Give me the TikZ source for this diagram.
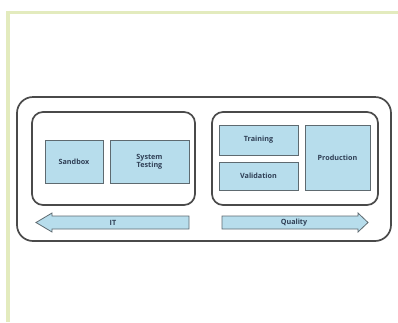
\documentclass[tikz,border=0pt]{standalone}
\usepackage{fontspec}
\setmainfont{Open Sans}
\definecolor{frameg}{HTML}{E3EBBE}
\definecolor{boxfill}{HTML}{B7DDEC}
\definecolor{boxline}{HTML}{5E6A70}
\definecolor{groupline}{HTML}{4A4A4A}
\definecolor{txt}{HTML}{2F3F55}
\tikzset{
  envbox/.style={draw=boxline, line width=0.9pt, fill=boxfill},
  grpbox/.style={draw=groupline, line width=1.7pt, rounded corners=11pt},
  outerbox/.style={draw=groupline, line width=1.7pt, rounded corners=16pt},
  lbl/.style={font=\fontsize{7.2}{8}\selectfont\bfseries, text=txt, align=center, inner sep=0pt},
  arrowshape/.style={draw=boxline, line width=0.8pt, fill=boxfill}
}
\begin{document}
\begin{tikzpicture}[x=1pt,y=-1pt]
\useasboundingbox (0,0) rectangle (398,322);
% green frame
\draw[frameg, line width=3pt] (6,12) -- (398,12);
\draw[frameg, line width=4pt] (8,10.5) -- (8,322);
% outer box
\draw[outerbox] (17,97) rectangle (391,241);
% group boxes
\draw[grpbox] (32,112) rectangle (195,205);
\draw[grpbox] (212,112) rectangle (378,205);
% environment boxes
\draw[envbox] (45,140) rectangle (103,183);
\node[lbl] (sandbox) at (74,161.5) {Sandbox};
\draw[envbox] (110,140) rectangle (189,183);
\node[lbl] (systest) at (149.5,161.5) {System\\Testing};
\draw[envbox] (219,125) rectangle (298,155);
\node[lbl] (training) at (258.5,140) {Training};
\draw[envbox] (219,162) rectangle (298,190);
\node[lbl] (validation) at (258.5,176) {Validation};
\draw[envbox] (305,125) rectangle (370,190);
\node[lbl] (production) at (337.5,157.5) {Production};
% arrows
\draw[arrowshape] (189,216) -- (52,216) -- (52,213) -- (36,222.5) -- (52,232) -- (52,229) -- (189,229) -- cycle;
\node[lbl] (it) at (113,222.5) {IT};
\draw[arrowshape] (222,216) -- (358,216) -- (358,213) -- (368,222.5) -- (358,232) -- (358,229) -- (222,229) -- cycle;
\node[lbl] (quality) at (294,222.5) {Quality};
\end{tikzpicture}
\end{document}
